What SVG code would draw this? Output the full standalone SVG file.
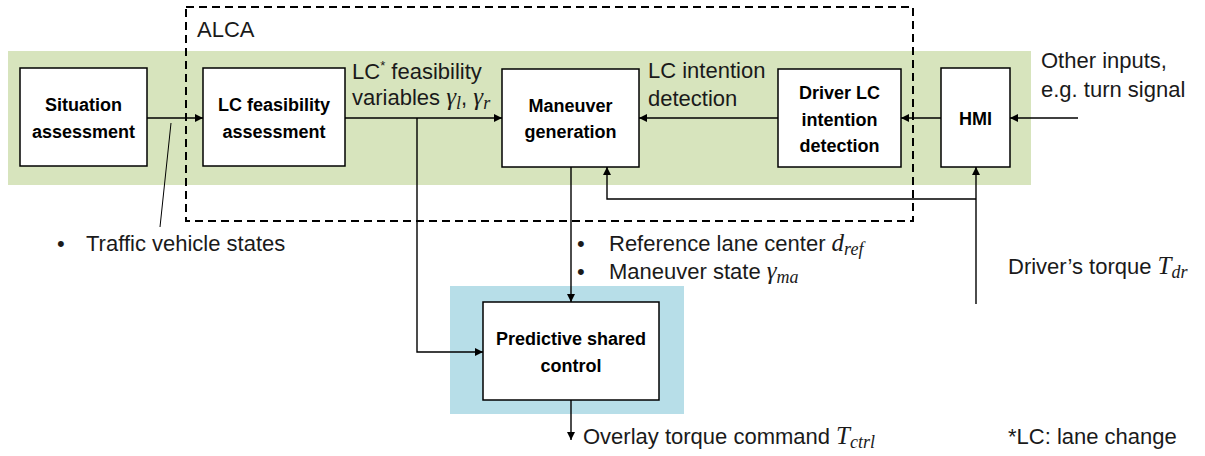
<svg xmlns="http://www.w3.org/2000/svg" width="1205" height="456" viewBox="0 0 1205 456">
<style>
.box{fill:#fff;stroke:#000;stroke-width:1.5}
.t{font-family:"Liberation Sans",Arial,sans-serif;font-size:22px;fill:#1a1a1a}
.b{font-family:"Liberation Sans",Arial,sans-serif;font-size:18px;font-weight:bold;fill:#000;text-anchor:middle}
.m{font-family:"Liberation Serif","Times New Roman",serif;font-style:italic;font-size:25px}
.s{font-family:"Liberation Serif","Times New Roman",serif;font-style:italic;font-size:18px}
.c{fill:none;stroke:#000;stroke-width:1.4}
</style>
<defs>
<marker id="ah" viewBox="0 0 10 10" refX="10" refY="5" markerWidth="8" markerHeight="8" markerUnits="userSpaceOnUse" orient="auto">
<path d="M0,0 L10,5 L0,10 z" fill="#000"/>
</marker>
</defs>
<rect width="1205" height="456" fill="#fff"/>
<rect x="8" y="51" width="1023" height="134" fill="#D7E4BD"/>
<rect x="450" y="286" width="234" height="128" fill="#B7DEE8"/>
<rect x="186" y="7" width="727" height="214" fill="none" stroke="#000" stroke-width="2" stroke-dasharray="8,5"/>
<text class="t" x="197" y="37">ALCA</text>

<g id="situation"><rect class="box" x="20" y="68" width="127" height="98"/><text class="b" x="83.5" y="111">Situation</text><text class="b" x="83.5" y="138">assessment</text></g>
<g id="lcfeas"><rect class="box" x="203" y="68" width="142" height="98"/><text class="b" x="274" y="111">LC feasibility</text><text class="b" x="274" y="138">assessment</text></g>
<g id="maneuver"><rect class="box" x="502" y="69" width="137" height="98"/><text class="b" x="570.5" y="112">Maneuver</text><text class="b" x="570.5" y="138">generation</text></g>
<g id="driverlc"><rect class="box" x="778" y="69" width="123" height="98"/><text class="b" x="839.5" y="99">Driver LC</text><text class="b" x="839.5" y="126">intention</text><text class="b" x="839.5" y="152">detection</text></g>
<g id="hmi"><rect class="box" x="941" y="68" width="69" height="99"/><text class="b" x="975.5" y="125">HMI</text></g>
<g id="psc"><rect class="box" x="483" y="302" width="176" height="98"/><text class="b" x="571" y="345">Predictive shared</text><text class="b" x="571" y="372">control</text></g>

<g id="connectors">
<path class="c" d="M147,118 H203" marker-end="url(#ah)"/>
<path class="c" d="M345,118 H502" marker-end="url(#ah)"/>
<path class="c" d="M417,118 V352 H483" stroke="#333" marker-end="url(#ah)"/>
<path class="c" d="M778,118 H639" marker-end="url(#ah)"/>
<path class="c" d="M941,118 H901" marker-end="url(#ah)"/>
<path class="c" d="M1078,118 H1010" marker-end="url(#ah)"/>
<path class="c" d="M976,304 V167" marker-end="url(#ah)"/>
<path class="c" d="M976,199 H607 V167" marker-end="url(#ah)"/>
<path class="c" d="M571,167 V302" marker-end="url(#ah)"/>
<path class="c" d="M571,400 V440" marker-end="url(#ah)"/>
<path d="M171,123 L160,227" stroke="#000" stroke-width="1"/>
</g>

<g id="labels">
<text class="t" x="352" y="79">LC<tspan font-size="13" dy="-9">*</tspan><tspan dy="9"> feasibility</tspan></text>
<text class="t" x="352" y="105">variables <tspan class="m">γ</tspan><tspan class="s" dy="4">l</tspan><tspan dy="-4">, </tspan><tspan class="m">γ</tspan><tspan class="s" dy="4">r</tspan></text>
<text class="t" x="648" y="78">LC intention</text>
<text class="t" x="648" y="106">detection</text>
<text class="t" x="1041" y="68">Other inputs,</text>
<text class="t" x="1041" y="97">e.g. turn signal</text>
<text class="t" x="1008" y="274">Driver’s torque <tspan class="m">T</tspan><tspan class="s" dy="4">dr</tspan></text>
<text class="t" x="57" y="251">•</text><text class="t" x="86" y="251">Traffic vehicle states</text>
<text class="t" x="577" y="251">•</text><text class="t" x="609" y="251">Reference lane center <tspan class="m">d</tspan><tspan class="s" dy="4">ref</tspan></text>
<text class="t" x="577" y="279">•</text><text class="t" x="609" y="279">Maneuver state <tspan class="m">γ</tspan><tspan class="s" dy="4">ma</tspan></text>
<text class="t" x="583" y="444">Overlay torque command <tspan class="m">T</tspan><tspan class="s" dy="4">ctrl</tspan></text>
<text class="t" x="1008" y="444">*LC: lane change</text>
</g>
</svg>
